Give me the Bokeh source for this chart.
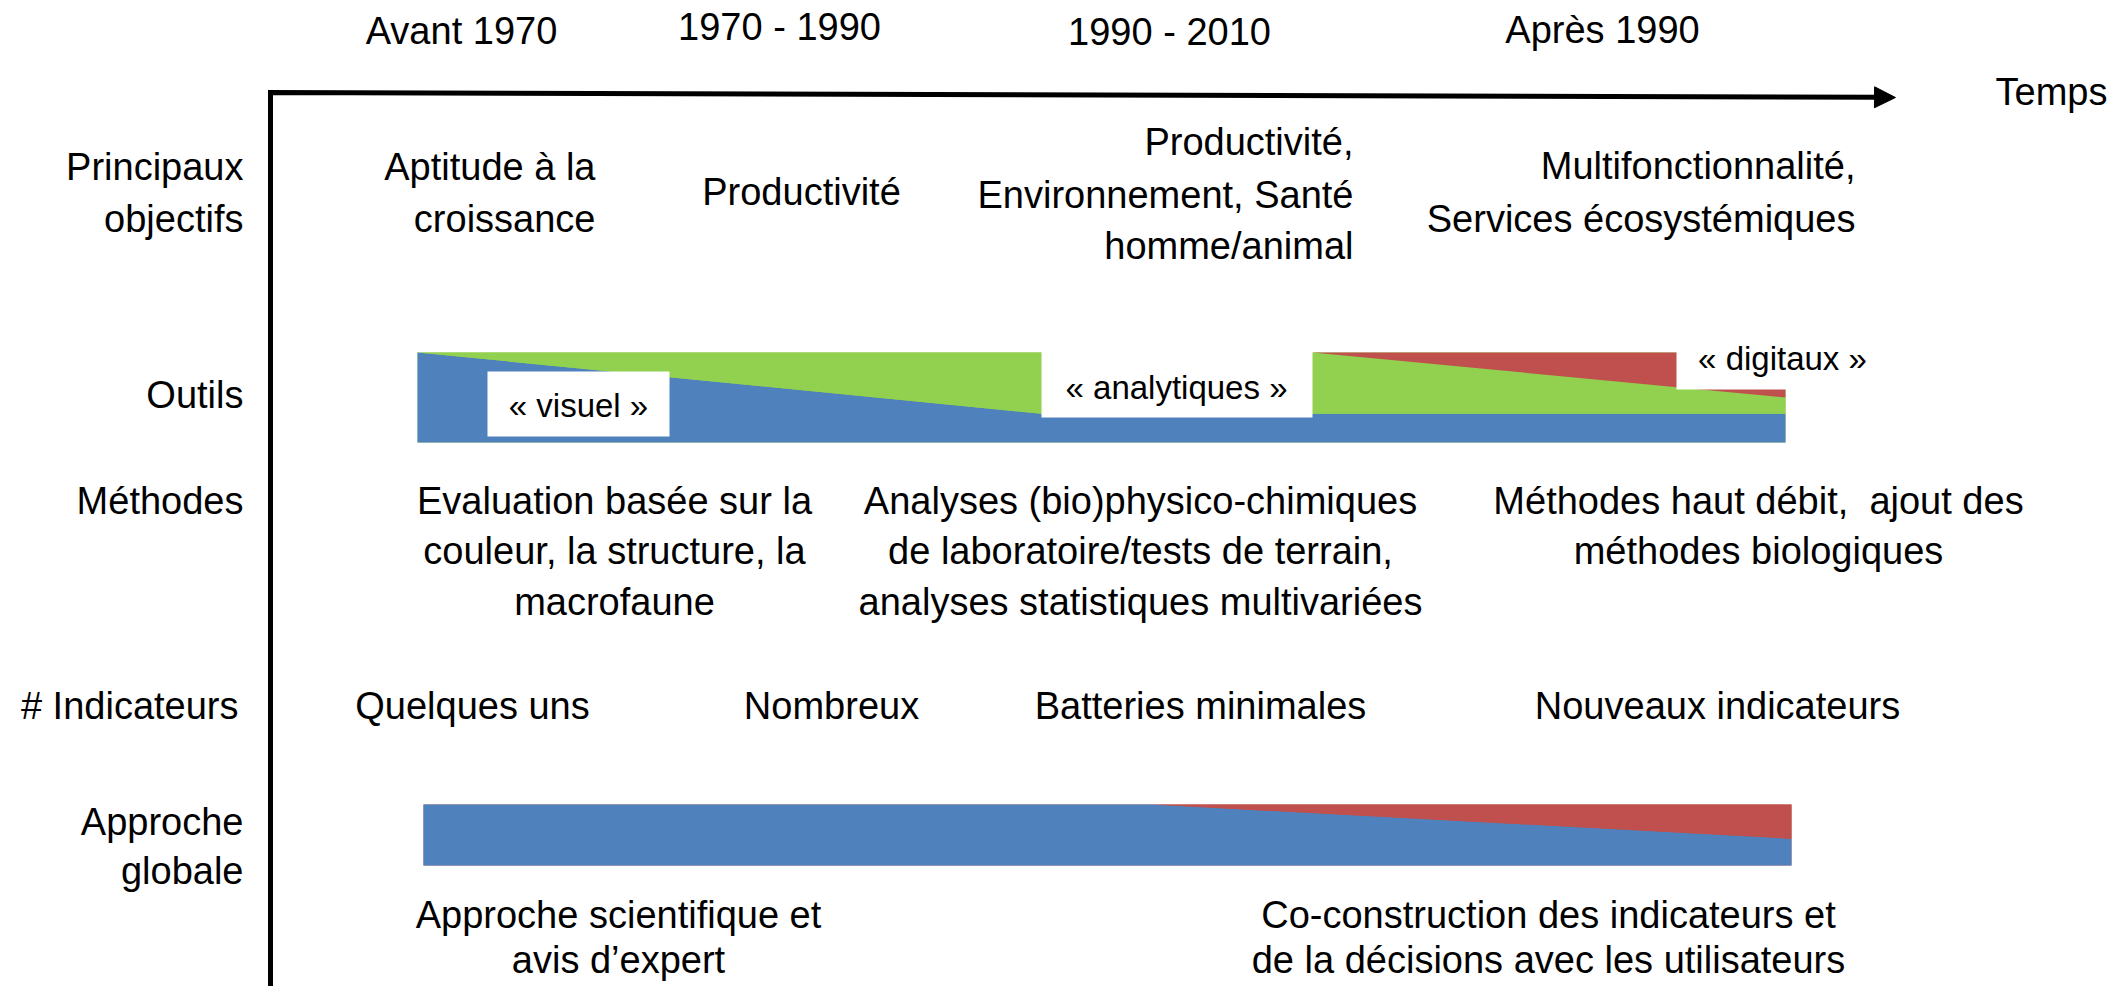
from bokeh.plotting import figure
from bokeh.models import ColumnDataSource, Range1d, Arrow, NormalHead
from bokeh.core.properties import value
from bokeh.embed import file_html
from bokeh.resources import INLINE

FONT = "Liberation Sans"
BLUE, GREEN, RED = "#4F81BD", "#92D050", "#C0504D"

# ---------------- data ----------------
periods = ["Avant 1970", "1970 - 1990", "1990 - 2010", "Après 1990"]
time_label = "Temps"
row_labels = ["Principaux", "objectifs", "Outils", "Méthodes", "# Indicateurs", "Approche", "globale"]

objectifs = [["Aptitude à la", "croissance"],
             ["Productivité"],
             ["Productivité,", "Environnement, Santé", "homme/animal"],
             ["Multifonctionnalité,", "Services écosystémiques"]]

methodes = [["Evaluation basée sur la", "couleur, la structure, la", "macrofaune"],
            ["Analyses (bio)physico-chimiques", "de laboratoire/tests de terrain,", "analyses statistiques multivariées"],
            ["Méthodes haut débit,\u00a0 ajout des", "méthodes biologiques"]]

indicateurs = ["Quelques uns", "Nombreux", "Batteries minimales", "Nouveaux indicateurs"]

approches = [["Approche scientifique et", "avis d’expert"],
             ["Co-construction des indicateurs et", "de la décisions avec les utilisateurs"]]

# Outils: shares of the bar height along the time span (0 -> 1)
outils_t = [0.0, 0.456, 0.654, 1.0]
outil_visuel = [1.0, 0.32, 0.32, 0.32]
outil_analytique = [0.0, 0.68, 0.68, 0.18]
outil_digital = [0.0, 0.0, 0.0, 0.50]
outils_names = ["« visuel »", "« analytiques »", "« digitaux »"]

# Approche globale: shares along the time span
approche_t = [0.0, 0.533, 1.0]
approche_expert = [1.0, 1.0, 0.44]
approche_coconstr = [0.0, 0.0, 0.56]

# ---------------- layout ----------------
p = figure(width=2124, height=986, x_range=Range1d(0, 2124), y_range=Range1d(986, 0),
           output_backend="svg", toolbar_location=None, min_border=0,
           x_axis_location=None, y_axis_location=None)
p.grid.visible = False
p.outline_line_color = None
p.background_fill_color = "white"
p.border_fill_color = "white"


def add_text(xs, ys, texts, align="center", size=38):
    dy = -0.31 * size  # renderer baseline correction
    src = ColumnDataSource(dict(x=xs, y=[y + dy for y in ys], text=texts))
    p.text(x="x", y="y", text="text", source=src, text_align=align,
           text_baseline="alphabetic", text_font=value(FONT),
           text_font_size=value(f"{size}px"), text_color="black")


def stack(x0, x1, ytop, ybot, t, layers, colors):
    xs = [x0 + ti * (x1 - x0) for ti in t]
    h = ybot - ytop
    p.quad(left=x0, right=x1, top=ytop, bottom=ybot, fill_color=colors[1], line_color=None)
    base = [0.0] * len(t)
    for shares, c in zip(layers, colors):
        lo = [ybot - b * h for b in base]
        hi = [ybot - (b + s) * h for b, s in zip(base, shares)]
        p.varea(x=xs, y1=lo, y2=hi, fill_color=c)
        base = [b + s for b, s in zip(base, shares)]


# axes (time arrow + vertical line)
p.line(x=[270, 270, 1880], y=[990, 92, 96.7], line_width=5, line_color="black", line_join="miter")
p.add_layout(Arrow(end=NormalHead(size=21, fill_color="black", line_color="black"),
                   x_start=1875, y_start=96.8, x_end=1895, y_end=97, line_alpha=0))

# period headers
add_text([461, 779, 1169, 1602], [42, 38, 43, 41], periods)
add_text([2051], [103], [time_label])

# row labels
add_text([243, 243, 243, 243, 238, 243, 243], [178, 230, 406, 512, 717, 833, 882], row_labels, align="right")

# objectives
obj_x = [595, 801, 1353, 1855]
obj_align = ["right", "center", "right", "right"]
obj_y = [[178, 230], [203], [153, 206, 257], [177, 230]]
for lines, x, a, ys in zip(objectifs, obj_x, obj_align, obj_y):
    add_text([x] * len(lines), ys, lines, align=a)

# outils bar
stack(417, 1785, 352, 442, outils_t, [outil_visuel, outil_analytique, outil_digital], [BLUE, GREEN, RED])
box_l = [487, 1041, 1676]
box_r = [669, 1312, 1889]
box_t = [371, 340, 323]
box_b = [436, 417, 389]
p.quad(left=box_l, right=box_r, top=box_t, bottom=box_b, fill_color="white", line_color=None)
add_text([578, 1176, 1782], [415, 397, 368], outils_names, size=33)

# methods
met_x = [614, 1140, 1758]
for lines, x in zip(methodes, met_x):
    add_text([x] * len(lines), [512, 562, 613][:len(lines)], lines)

# indicators
add_text([472, 831, 1200, 1717], [717] * 4, indicateurs)

# approche globale bar
stack(423, 1791, 804, 865, approche_t, [approche_expert, approche_coconstr], [BLUE, RED])

# approach texts
for lines, x in zip(approches, [618, 1548]):
    add_text([x] * len(lines), [926, 971], lines)

open("out.html", "w").write(file_html(p, INLINE))
